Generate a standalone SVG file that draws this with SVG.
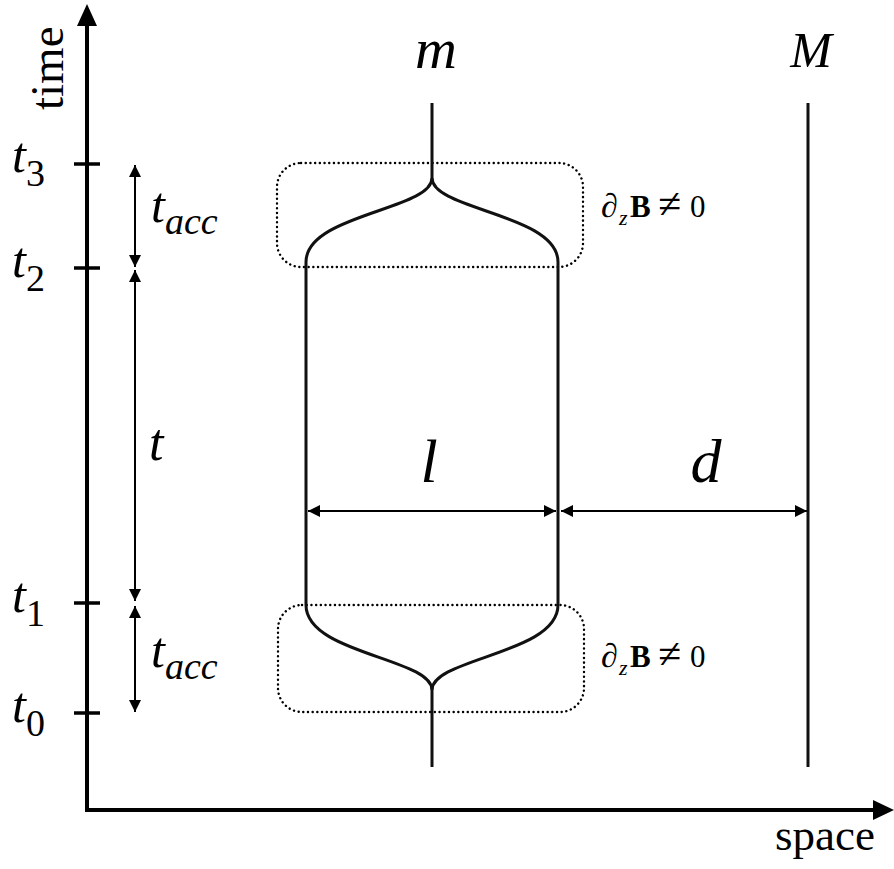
<svg xmlns="http://www.w3.org/2000/svg" width="894" height="869" viewBox="0 0 894 869">
<defs>
<style>
.axis{stroke:#000;stroke-width:4;fill:none}
.tick{stroke:#000;stroke-width:3.5}
.dim{stroke:#000;stroke-width:2;fill:none;marker-start:url(#ah);marker-end:url(#ah)}
.world{stroke:#111;stroke-width:3;fill:none}
.dot{stroke:#000;stroke-width:2.4;fill:none;stroke-dasharray:0.1 4.6;stroke-linecap:round}
.it{font-family:"Liberation Serif","Times New Roman",serif;font-style:italic;fill:#000}
.rm{font-family:"Liberation Serif","Times New Roman",serif;fill:#000}
</style>
<marker id="ah" viewBox="0 0 12 12" refX="12" refY="6" markerWidth="12" markerHeight="12" markerUnits="userSpaceOnUse" orient="auto-start-reverse">
<path d="M0,0 L12,6 L0,12 Z" fill="#000"/>
</marker>
</defs>
<g id="axes">
<line class="axis" x1="87" y1="22" x2="87" y2="812"/>
<polygon points="87,4 77,26 97,26" fill="#000"/>
<line class="axis" x1="85" y1="810" x2="878" y2="810"/>
<polygon points="894,810 873,800 873,820" fill="#000"/>
<text class="rm" font-size="47" transform="translate(63,110) rotate(-90)">time</text>
<text class="rm" font-size="45" x="775" y="850">space</text>
</g>
<g id="ticks">
<line class="tick" x1="74" y1="164" x2="100" y2="164"/>
<line class="tick" x1="74" y1="268" x2="100" y2="268"/>
<line class="tick" x1="74" y1="603" x2="100" y2="603"/>
<line class="tick" x1="74" y1="713" x2="100" y2="713"/>
<text class="it" font-size="50" x="12" y="172">t<tspan class="rm" font-style="normal" font-size="38" dy="14">3</tspan></text>
<text class="it" font-size="50" x="12" y="277">t<tspan class="rm" font-style="normal" font-size="38" dy="14">2</tspan></text>
<text class="it" font-size="50" x="12" y="612">t<tspan class="rm" font-style="normal" font-size="38" dy="14">1</tspan></text>
<text class="it" font-size="50" x="12" y="722">t<tspan class="rm" font-style="normal" font-size="38" dy="14">0</tspan></text>
</g>
<g id="connectors">
<line class="dim" x1="135" y1="165" x2="135" y2="267"/>
<line class="dim" x1="135" y1="270" x2="135" y2="601"/>
<line class="dim" x1="135" y1="606" x2="135" y2="712"/>
<line class="dim" x1="308" y1="511" x2="556" y2="511"/>
<line class="dim" x1="561" y1="511" x2="807" y2="511"/>
</g>
<g id="tacc-upper">
<text class="it" font-size="50" x="151" y="222">t<tspan font-size="38" dy="12">acc</tspan></text>
</g>
<g id="t-mid">
<text class="it" font-size="52" x="149" y="460">t</text>
</g>
<g id="tacc-lower">
<text class="it" font-size="50" x="151" y="667">t<tspan font-size="38" dy="12">acc</tspan></text>
</g>
<g id="region-upper">
<rect class="dot" x="277" y="163" width="306" height="104" rx="24" ry="24"/>
<text font-size="31" y="217"><tspan class="it" font-size="34" x="601">∂</tspan><tspan class="it" font-size="22" x="619" dy="8">z</tspan><tspan class="rm" font-weight="bold" x="630" dy="-8">B</tspan><tspan class="rm" font-size="42" x="658" dy="1">≠</tspan><tspan class="rm" x="690" dy="-1">0</tspan></text>
</g>
<g id="region-lower">
<rect class="dot" x="278" y="605" width="306" height="107" rx="24" ry="24"/>
<text font-size="31" y="667"><tspan class="it" font-size="34" x="601">∂</tspan><tspan class="it" font-size="22" x="619" dy="8">z</tspan><tspan class="rm" font-weight="bold" x="630" dy="-8">B</tspan><tspan class="rm" font-size="42" x="658" dy="1">≠</tspan><tspan class="rm" x="690" dy="-1">0</tspan></text>
</g>
<g id="particle-m">
<path class="world" d="M432,103 L432,178 C432,210 306,214 306,262 L306,605 C306,654 432,658 432,690 L432,767"/>
<path class="world" d="M432,178 C432,210 558,214 558,262 L558,605 C558,654 432,658 432,690"/>
<text class="it" font-size="58" x="436" y="68" text-anchor="middle">m</text>
</g>
<g id="particle-M">
<line class="world" x1="808" y1="103" x2="808" y2="767"/>
<text class="it" font-size="50" x="811" y="67" text-anchor="middle">M</text>
</g>
<g id="labels">
<text class="it" font-size="62" x="429" y="482" text-anchor="middle">l</text>
<text class="it" font-size="62" x="706" y="482" text-anchor="middle">d</text>
</g>
</svg>
